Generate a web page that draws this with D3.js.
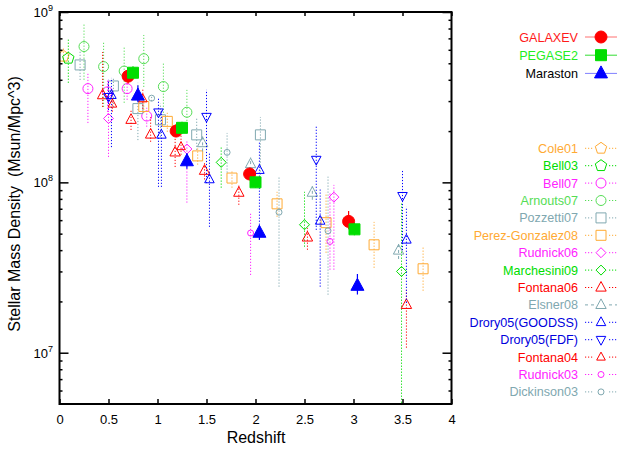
<!DOCTYPE html>
<html><head><meta charset="utf-8">
<script src="https://cdn.jsdelivr.net/npm/d3@7"></script>
<style>body{margin:0;background:#fff}svg{display:block}text{font-family:"Liberation Sans",Arial,sans-serif}</style>
</head><body>
<svg id="c" width="618" height="449"></svg>
<script>
// Each point: [redshift, density, lowErr, highErr]
const galaxev = [[0.70,4.2e8,3.8e8,4.6e8],[1.19,2.0e8,1.85e8,2.2e8],[1.94,1.12e8,1.03e8,1.22e8],[2.95,5.9e7,5.3e7,6.8e7]];
const pegase2 = [[0.75,4.4e8,4.1e8,4.8e8],[1.25,2.09e8,1.93e8,2.27e8],[2.00,1.0e8,9.3e7,1.08e8],[3.01,5.3e7,4.9e7,5.8e7]];
const maraston = [[0.80,3.23e8,2.95e8,3.7e8],[1.30,1.33e8,1.2e8,1.48e8],[2.04,5.06e7,4.6e7,5.6e7],[3.04,2.47e7,2.2e7,2.9e7]];

const cole01 = [[0.04,5.5e8,5.1e8,6.15e8]];
const bell03 = [[0.09,5.35e8,3.84e8,7.0e8]];
const bell07 = [[0.29,3.55e8,2.23e8,4.39e8],[0.49,3.4e8,2.49e8,4.0e8],[0.69,3.55e8,3.05e8,4.0e8],[0.89,2.45e8,2.12e8,2.74e8]];
const arnouts07 = [[0.25,6.27e8,4.0e8,8.6e8],[0.45,4.78e8,2.77e8,6.67e8],[0.66,4.5e8,2.93e8,6.24e8],[0.86,5.32e8,3.63e8,7.33e8],[1.06,3.65e8,2.56e8,5.1e8],[1.30,2.58e8,1.95e8,3.49e8]];
const pozzetti07 = [[0.21,4.89e8,3.99e8,5.98e8],[0.55,3.68e8,2.77e8,4.14e8],[0.80,2.71e8,1.77e8,3.84e8],[1.03,2.33e8,1.85e8,2.9e8],[1.40,1.9e8,1.55e8,2.39e8],[2.05,1.9e8,1.11e8,2.42e8]];
const perezGonzalez08 = [[0.86,2.79e8,2.56e8,3.05e8],[1.10,2.28e8,1.98e8,2.56e8],[1.41,1.43e8,1.27e8,1.61e8],[1.76,1.06e8,9.3e7,1.18e8],[2.22,7.48e7,6.28e7,8.8e7],[2.72,5.8e7,3.86e7,8.7e7],[3.21,4.3e7,3.15e7,5.86e7],[3.71,3.11e7,2.31e7,4.19e7]];
const rudnick06 = [[0.50,2.37e8,1.41e8,4.0e8],[1.30,1.57e8,7.6e7,1.77e8],[2.80,8.19e7,3.07e7,9.66e7]];
const marchesini09 = [[1.65,1.31e8,9.3e7,1.61e8],[2.50,5.64e7,4.19e7,8.8e7],[3.49,3.0e7,3.0e6,7.6e7]];
const fontana06 = [[0.44,3.25e8,2.77e8,5.82e8],[0.73,2.33e8,2.03e8,2.66e8],[0.93,1.91e8,1.73e8,2.42e8],[1.18,1.50e8,1.23e8,1.9e8],[1.48,1.17e8,1.04e8,1.32e8],[1.83,8.7e7,7.38e7,9.66e7],[2.53,4.75e7,4.02e7,5.4e7],[3.54,1.91e7,1.07e7,2.34e7]];
const elsner08 = [[1.46,1.70e8,1.52e8,1.9e8],[1.95,1.28e8,1.18e8,1.4e8],[2.58,8.7e7,7.9e7,9.5e7],[3.46,3.98e7,3.55e7,4.4e7]];
const drory05Goods = [[0.53,3.25e8,1.61e8,4.1e8],[1.04,1.9e8,9.4e7,2.66e8],[1.53,1.04e8,5.48e7,1.51e8],[2.04,1.18e8,4.6e7,1.71e8],[2.66,5.94e7,2.44e7,9.3e7],[3.54,4.6e7,1.96e7,7.18e7]];
const drory05Fdf = [[0.50,3.18e8,2.66e8,4.0e8],[1.01,2.58e8,9.4e7,3.17e8],[1.50,2.43e8,9.9e7,3.49e8],[2.62,1.36e8,5.26e7,2.17e8],[3.50,8.34e7,4.0e7,1.17e8]];
const fontana04 = [[0.54,2.88e8,2.6e8,3.2e8],[0.85,3.09e8,2.7e8,3.5e8],[1.24,1.62e8,1.45e8,1.9e8]];
const rudnick03 = [[1.95,5.04e7,2.86e7,6.6e7],[2.76,4.5e7,3.07e7,8.8e7]];
const dickinson03 = [[0.94,3.12e8,3.0e8,3.25e8],[1.71,1.5e8,1.14e8,1.95e8],[2.24,6.68e7,2.44e7,1.08e8],[2.74,5.2e7,2.19e7,1.08e8]];

const xTicks = [0,0.5,1,1.5,2,2.5,3,3.5,4];
const yMajor = [1e7,1e8,1e9];
const yMinor = [6e6,7e6,8e6,9e6,2e7,3e7,4e7,5e7,6e7,7e7,8e7,9e7,2e8,3e8,4e8,5e8,6e8,7e8,8e8,9e8];

const RED="#ff0000", GREEN="#00dd00", LGREEN="#55dd55", MAG="#ff22ff", ORANGE="#ffaa33", TEAL="#80a8b0", BLUE="#0000ff";

const models = [
  {name:"GALAXEV", data:galaxev, color:RED, text:"#ff1a1a", shape:"circle", r:6, line:"#ff7070"},
  {name:"PEGASE2", data:pegase2, color:GREEN, text:"#22ee22", shape:"square", r:5.5, line:"#33dd33"},
  {name:"Maraston", data:maraston, color:BLUE, text:"#000", shape:"tri", r:7.5, line:"#8080ff"}
];
const obs = [
  {name:"Cole01", data:cole01, color:ORANGE, shape:"pent", r:6},
  {name:"Bell03", data:bell03, color:GREEN, shape:"pent", r:6},
  {name:"Bell07", data:bell07, color:MAG, shape:"circle", r:5},
  {name:"Arnouts07", data:arnouts07, color:LGREEN, shape:"circle", r:5},
  {name:"Pozzetti07", data:pozzetti07, color:TEAL, shape:"square", r:5},
  {name:"Perez-Gonzalez08", data:perezGonzalez08, color:ORANGE, shape:"square", r:5},
  {name:"Rudnick06", data:rudnick06, color:MAG, shape:"diamond", r:5},
  {name:"Marchesini09", data:marchesini09, color:GREEN, shape:"diamond", r:5},
  {name:"Fontana06", data:fontana06, color:RED, shape:"tri", r:6},
  {name:"Elsner08", data:elsner08, color:TEAL, shape:"tri", r:6, dash:"3,3"},
  {name:"Drory05(GOODSS)", data:drory05Goods, color:BLUE, text:"#0000dd", shape:"tri", r:5.5},
  {name:"Drory05(FDF)", data:drory05Fdf, color:BLUE, text:"#0000dd", shape:"tridown", r:5.5},
  {name:"Fontana04", data:fontana04, color:RED, shape:"tri", r:5},
  {name:"Rudnick03", data:rudnick03, color:MAG, shape:"circle", r:3},
  {name:"Dickinson03", data:dickinson03, color:TEAL, shape:"circle", r:3}
];

function shapePath(s, r){
  if(s==="circle") return `M${r},0A${r},${r} 0 1,1 ${-r},0A${r},${r} 0 1,1 ${r},0Z`;
  if(s==="square") return `M${-r},${-r}H${r}V${r}H${-r}Z`;
  if(s==="diamond") return `M0,${-r}L${r},0L0,${r}L${-r},0Z`;
  if(s==="tri"){const h=r*0.866;return `M0,${-r}L${h},${r*0.6}L${-h},${r*0.6}Z`;}
  if(s==="tridown"){const h=r*0.866;return `M0,${r}L${h},${-r*0.6}L${-h},${-r*0.6}Z`;}
  if(s==="pent"){let p=[];for(let k=0;k<5;k++){const a=-Math.PI/2+k*2*Math.PI/5;p.push([r*Math.cos(a),r*Math.sin(a)]);}return "M"+p.map(d=>d[0].toFixed(2)+","+d[1].toFixed(2)).join("L")+"Z";}
}

const svg = d3.select("#c");
const L=59.5, R=451.5, T=12, B=404;
const x = d3.scaleLinear().domain([0,4]).range([L,R]);
const y = d3.scaleLog().domain([5e6,1e9]).range([B,T]);

const plot = svg.append("g");
plot.append("defs").append("clipPath").attr("id","clip").append("rect").attr("x",L).attr("y",T).attr("width",R-L).attr("height",B-T);
const inner = plot.append("g").attr("clip-path","url(#clip)");

function drawSeries(s, model){
  const g = inner.append("g");
  g.selectAll("line").data(s.data).enter().append("line")
    .attr("x1",d=>x(d[0])).attr("x2",d=>x(d[0]))
    .attr("y1",d=>y(Math.max(d[2],1e6))).attr("y2",d=>y(d[3]))
    .attr("stroke",s.color).attr("stroke-width",model?1.2:1)
    .attr("stroke-dasharray",model?null:(s.dash||"1.2,1.8"));
  g.selectAll("path").data(s.data).enter().append("path")
    .attr("d",shapePath(s.shape,s.r))
    .attr("transform",d=>`translate(${x(d[0])},${y(d[1])})`)
    .attr("fill",model?s.color:"#fff").attr("fill-opacity",model?1:0)
    .attr("stroke",s.color).attr("stroke-width",1);
}
obs.forEach(s=>drawSeries(s,false));
models.forEach(s=>drawSeries(s,true));

// axes
const fmt = d=>d3.format("~g")(d);
svg.append("g").attr("transform",`translate(0,${B})`)
  .call(d3.axisBottom(x).tickValues(xTicks).tickSizeInner(-5).tickSizeOuter(0).tickPadding(11).tickFormat(fmt))
  .call(g=>{g.select(".domain").remove();g.selectAll("line").attr("stroke-width",1.5);g.selectAll("text").attr("font-size",13).attr("fill","#000");});
svg.append("g").attr("transform",`translate(0,${T})`)
  .call(d3.axisTop(x).tickValues(xTicks).tickSizeInner(-4).tickSizeOuter(0).tickFormat(""))
  .call(g=>{g.select(".domain").remove();g.selectAll("line").attr("stroke-width",1.5);});
svg.append("g").attr("transform",`translate(${L},0)`)
  .call(d3.axisLeft(y).tickValues(yMajor).tickSizeInner(-9).tickSizeOuter(0).tickFormat(""))
  .call(g=>{g.select(".domain").remove();g.selectAll("line").attr("stroke-width",1.5);});
svg.append("g").attr("transform",`translate(${L},0)`)
  .call(d3.axisLeft(y).tickValues(yMinor).tickSizeInner(-3).tickSizeOuter(0).tickFormat(""))
  .call(g=>{g.select(".domain").remove();g.selectAll("line").attr("stroke-width",1.5);});
svg.append("g").attr("transform",`translate(${R},0)`)
  .call(d3.axisRight(y).tickValues(yMajor).tickSizeInner(-9).tickSizeOuter(0).tickFormat(""))
  .call(g=>{g.select(".domain").remove();g.selectAll("line").attr("stroke-width",1.5);});
svg.append("g").attr("transform",`translate(${R},0)`)
  .call(d3.axisRight(y).tickValues(yMinor).tickSizeInner(-3).tickSizeOuter(0).tickFormat(""))
  .call(g=>{g.select(".domain").remove();g.selectAll("line").attr("stroke-width",1.5);});
svg.append("rect").attr("x",L).attr("y",T).attr("width",R-L).attr("height",B-T)
  .attr("fill","none").attr("stroke","#000").attr("stroke-width",2);

// y tick labels 10^n
const yl = svg.append("g");
yMajor.forEach(v=>{
  const t = yl.append("text").attr("x",53).attr("y",y(v)+5).attr("text-anchor","end").attr("font-size",13);
  t.append("tspan").text("10");
  t.append("tspan").attr("dy",-6).attr("font-size",9).text(Math.round(Math.log10(v)));
});

// titles
svg.append("text").attr("x",256).attr("y",443).attr("text-anchor","middle").attr("font-size",16).text("Redshift");
svg.append("text").attr("transform","translate(20,204) rotate(-90)").attr("text-anchor","middle").attr("font-size",16)
  .text("Stellar Mass Density \u00a0(Msun/Mpc^3)");

// legends
function legendRow(s, yy, model){
  const g = svg.append("g");
  g.append("text").attr("x",578).attr("y",yy+4.5).attr("text-anchor","end").attr("font-size",12.6)
    .attr("fill",s.text||s.color).text(s.name);
  g.append("line").attr("x1",585).attr("x2",617).attr("y1",yy).attr("y2",yy)
    .attr("stroke",model?s.line:s.color).attr("stroke-width",1)
    .attr("stroke-dasharray",model?null:(s.dash||"1.2,1.8"));
  if(!model) g.append("rect").attr("x",594).attr("y",yy-6).attr("width",14).attr("height",12).attr("fill","#fff");
  g.append("path").attr("d",shapePath(s.shape,s.r)).attr("transform",`translate(601,${yy})`)
    .attr("fill",model?s.color:"#fff").attr("stroke",s.color).attr("stroke-width",1);
}
models.forEach((s,i)=>legendRow(s,37+i*18.2,true));
obs.forEach((s,i)=>legendRow(s,148.3+i*17.4,false));
</script>
</body></html>
